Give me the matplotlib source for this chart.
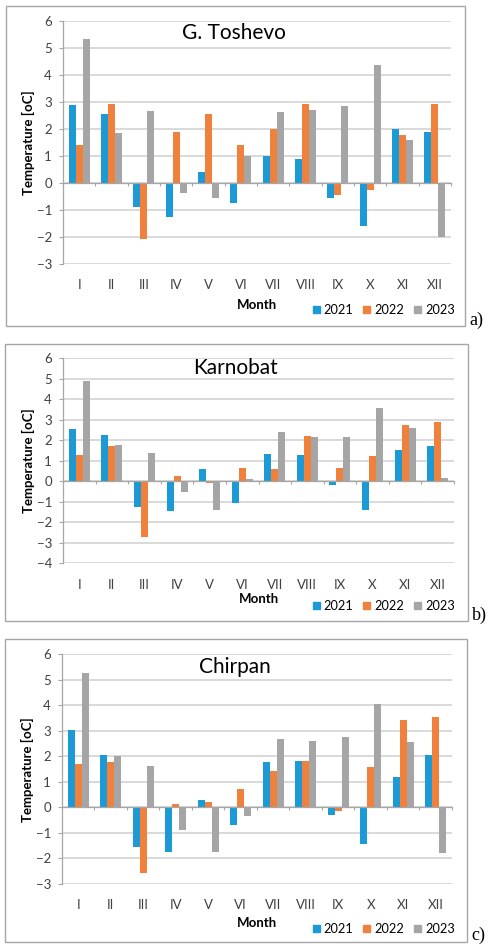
import matplotlib
matplotlib.use("Agg")
import matplotlib.pyplot as plt
import numpy as np
from matplotlib.patches import Rectangle, Patch

plt.rcParams['font.family'] = ['Lato', 'DejaVu Sans']

# Data
months = ["I", "II", "III", "IV", "V", "VI", "VII", "VIII", "IX", "X", "XI", "XII"]
years = ["2021", "2022", "2023"]
colors = ["#1b9ad6", "#f0813c", "#a5a5a5"]

toshevo_2021 = [2.9, 2.58, -0.88, -1.25, 0.4, -0.73, 1.0, 0.9, -0.57, -1.6, 2.0, 1.88]
toshevo_2022 = [1.4, 2.95, -2.07, 1.9, 2.56, 1.4, 2.0, 2.95, -0.44, -0.27, 1.77, 2.93]
toshevo_2023 = [5.36, 1.87, 2.66, -0.38, -0.54, 1.0, 2.63, 2.71, 2.85, 4.38, 1.6, -2.0]

karnobat_2021 = [2.55, 2.27, -1.25, -1.46, 0.61, -1.04, 1.33, 1.27, -0.16, -1.42, 1.55, 1.74]
karnobat_2022 = [1.27, 1.72, -2.7, 0.24, -0.08, 0.66, 0.6, 2.2, 0.66, 1.22, 2.75, 2.9]
karnobat_2023 = [4.88, 1.75, 1.4, -0.51, -1.4, 0.12, 2.4, 2.15, 2.15, 3.56, 2.6, 0.18]

chirpan_2021 = [3.03, 2.05, -1.56, -1.76, 0.28, -0.69, 1.77, 1.83, -0.31, -1.45, 1.2, 2.05]
chirpan_2022 = [1.7, 1.77, -2.57, 0.13, 0.23, 0.74, 1.41, 1.83, -0.15, 1.57, 3.41, 3.55]
chirpan_2023 = [5.27, 2.03, 1.63, -0.9, -1.76, -0.33, 2.7, 2.62, 2.77, 4.04, 2.56, -1.8]

W, H = 489, 947
fig = plt.figure(figsize=(W / 100, H / 100), dpi=100)


def fig_box(x0, y0, x1, y1):
    # pixel box (top-left origin) -> figure fraction rect
    return [x0 / W, 1 - y1 / H, (x1 - x0) / W, (y1 - y0) / H]


def draw_panel(title, series, ymin, plot_px, box_px, title_px, month_y, legend_y, tag, tag_px):
    # outer frame
    bx0, by0, bx1, by1 = box_px
    fig.patches.append(Rectangle((bx0 / W, 1 - by1 / H), (bx1 - bx0) / W, (by1 - by0) / H,
                                 transform=fig.transFigure, fill=False,
                                 edgecolor="#a6a6a6", lw=1.0))

    ax = fig.add_axes(fig_box(*plot_px))
    x = np.arange(len(months))
    bw = 0.215
    for k, vals in enumerate(series):
        ax.bar(x + (k - 1) * bw, vals, width=bw, color=colors[k], zorder=3)

    ax.set_xlim(-0.5, len(months) - 0.5)
    ax.set_ylim(ymin, 6)
    ax.set_yticks(range(ymin, 7))
    ax.yaxis.grid(True, color="#d0d0d0", lw=1.1, zorder=0)
    ax.set_axisbelow(True)
    ax.tick_params(axis="y", length=3, width=0.8, color="#a6a6a6", pad=5,
                   labelsize=9.5, labelcolor="#404040")
    for s in ("top", "right"):
        ax.spines[s].set_visible(False)
    ax.spines["left"].set_color("#a6a6a6")
    ax.spines["left"].set_linewidth(0.9)
    ax.spines["bottom"].set_position(("data", 0))
    ax.spines["bottom"].set_color("#a6a6a6")
    ax.spines["bottom"].set_linewidth(0.9)
    ax.spines["bottom"].set_zorder(4)
    ax.set_xticks(np.arange(len(months) + 1) - 0.5)
    ax.set_xticklabels([])
    ax.tick_params(axis="x", length=2.5, width=0.8, color="#a6a6a6")

    sec = ax.secondary_xaxis("bottom")
    sec.set_xticks(x)
    sec.set_xticklabels(months)
    sec.tick_params(length=0, pad=11, labelsize=9.5, labelcolor="#404040")
    sec.spines["bottom"].set_visible(False)

    ax.set_ylabel("Temperature [oC]", fontsize=9.5, fontweight="bold", labelpad=1)

    fig.text(title_px[0] / W, 1 - title_px[1] / H, title, fontsize=15,
             ha="center", va="center", color="#000000")

    px0, py0, px1, py1 = plot_px
    fig.text((px0 + px1) / 2 / W, 1 - month_y / H, "Month", fontsize=9.5,
             fontweight="bold", ha="center", va="center")

    handles = [Patch(color=c) for c in colors]
    fig.legend(handles, years, loc="center right", ncol=3, frameon=False,
               bbox_to_anchor=(455 / W, 1 - legend_y / H), fontsize=9.2,
               handlelength=0.55, handleheight=0.55, handletextpad=0.3,
               columnspacing=0.8, borderaxespad=0, borderpad=0)

    fig.text(tag_px[0] / W, 1 - tag_px[1] / H, tag, fontsize=13,
             family="Liberation Serif", ha="left", va="center")
    return ax


draw_panel("G. Toshevo", [toshevo_2021, toshevo_2022, toshevo_2023], -3,
           (63, 21.3, 451, 264), (5.7, 5.7, 465, 326), (234, 33), 305, 310,
           "a)", (469, 320))
draw_panel("Karnobat", [karnobat_2021, karnobat_2022, karnobat_2023], -4,
           (63, 358.3, 454, 563.3), (5, 344, 468, 621), (236, 368), 599, 606,
           "b)", (472, 615))
draw_panel("Chirpan", [chirpan_2021, chirpan_2022, chirpan_2023], -3,
           (62, 654.3, 452, 884), (5, 639, 467, 942), (235, 667), 923, 929,
           "c)", (471, 935))

fig.savefig("out.png", dpi=100)
